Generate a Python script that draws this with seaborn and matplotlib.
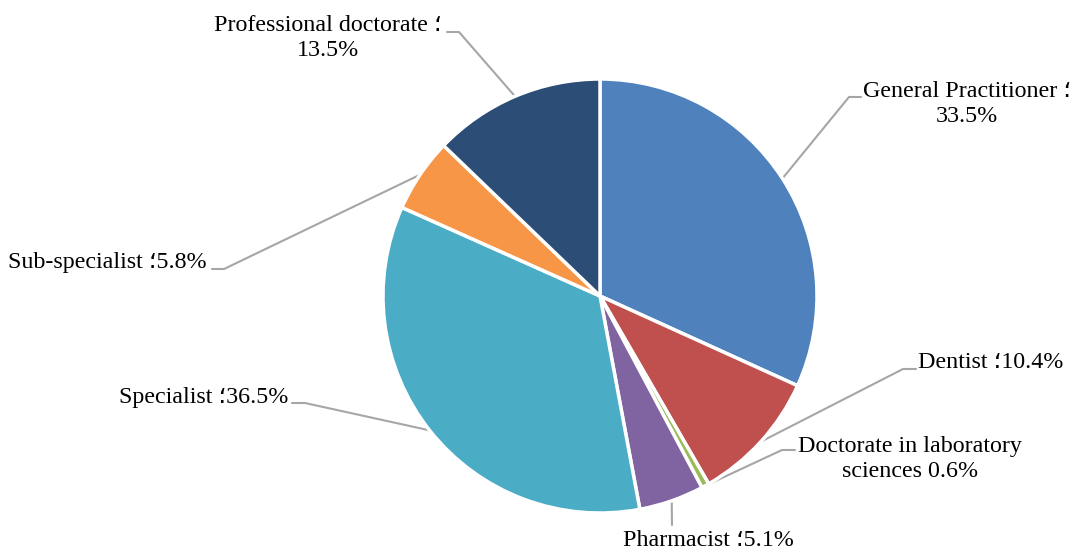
import numpy as np
import matplotlib
matplotlib.use("Agg")
import matplotlib.pyplot as plt
import seaborn as sns

# -- Data -----------------------------------------------------------------------
categories = [
    "General Practitioner",
    "Dentist",
    "Doctorate in laboratory sciences",
    "Pharmacist",
    "Specialist",
    "Sub-specialist",
    "Professional doctorate",
]
shares = [33.5, 10.4, 0.6, 5.1, 36.5, 5.8, 13.5]
label_texts = [
    "General Practitioner \u061b\n33.5%",
    "Dentist \u061b10.4%",
    "Doctorate in laboratory\nsciences 0.6%",
    "Pharmacist \u061b5.1%",
    "Specialist \u061b36.5%",
    "Sub-specialist \u061b5.8%",
    "Professional doctorate \u061b\n13.5%",
]
colors = ["#4F81BD", "#C0504D", "#9BBB59", "#8064A2", "#4BACC6", "#F79646", "#2C4D75"]

# -- Layout (pixel positions of labels and leader elbows) ------------------------
W, H = 1074, 551
CX, CY, R = 600, 296, 217
# text x, text y, ha, leader start (near text), elbow
layout = [
    (967, 104, "center", (861, 97), (849, 97)),
    (918, 362, "left", (916, 369), (903, 369)),
    (910, 459, "center", (795, 450), (782, 450)),
    (708, 541, "center", (672, 525), None),
    (288, 397, "right", (292, 403), (305, 403)),
    (207, 263, "right", (212, 269), (224, 269)),
    (328, 38, "center", (447, 32), (459, 32)),
]


def px(x, y):
    return (x - CX) / R, (CY - y) / R


sns.set_theme(style="white")
plt.rcParams["font.family"] = ["Liberation Serif", "DejaVu Sans"]

fig = plt.figure(figsize=(W / 100, H / 100), dpi=100)
ax = fig.add_axes([0, 0, 1, 1])
wedges, _ = ax.pie(
    shares,
    colors=colors,
    startangle=90,
    counterclock=False,
    radius=1,
    wedgeprops={"edgecolor": "white", "linewidth": 2.5},
)

for w, txt, (tx, ty, ha, start, elbow) in zip(wedges, label_texts, layout):
    mid = np.deg2rad((w.theta1 + w.theta2) / 2)
    anchor = (np.cos(mid), np.sin(mid))
    pts = [px(*start)]
    if elbow is not None:
        pts.append(px(*elbow))
    pts.append(anchor)
    xs, ys = zip(*pts)
    ax.plot(xs, ys, color="#A6A6A6", lw=1.5, zorder=0)
    x, y = px(tx, ty)
    ax.text(x, y, txt, ha=ha, va="center", fontsize=17.3, color="black",
            multialignment="center", linespacing=1.25)

ax.set_xlim(-CX / R, (W - CX) / R)
ax.set_ylim((CY - H) / R, CY / R)
ax.set_aspect("equal")
ax.axis("off")

fig.savefig("out.png", dpi=100)
